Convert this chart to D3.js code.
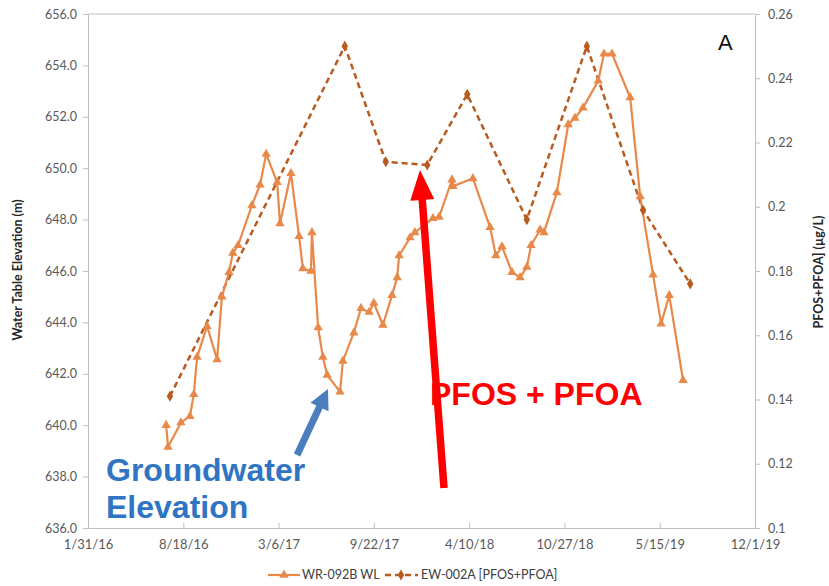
<!DOCTYPE html>
<html><head><meta charset="utf-8">
<script src="https://cdn.jsdelivr.net/npm/d3@7"></script>
<style>body{margin:0;background:#fff}svg{display:block}</style>
</head><body><svg id="c" width="829" height="586"></svg>
<script>
// Groundwater elevation (WR-092B WL)
const gwDates = ["2016-07-13","2016-07-17","2016-08-13","2016-09-01","2016-09-09","2016-09-16","2016-10-07","2016-10-28","2016-11-07","2016-11-22","2016-11-30","2016-12-11","2017-01-09","2017-01-26","2017-02-08","2017-03-03","2017-03-09","2017-04-01","2017-04-18","2017-04-26","2017-05-13","2017-05-15","2017-05-28","2017-06-07","2017-06-16","2017-07-13","2017-07-19","2017-08-11","2017-08-26","2017-09-12","2017-09-22","2017-10-11","2017-10-30","2017-11-10","2017-11-14","2017-12-07","2017-12-17","2018-01-24","2018-02-06","2018-03-05","2018-03-07","2018-04-18","2018-05-24","2018-06-05","2018-06-18","2018-07-09","2018-07-26","2018-08-09","2018-08-18","2018-09-06","2018-09-14","2018-10-11","2018-11-04","2018-11-18","2018-12-05","2019-01-06","2019-01-18","2019-02-04","2019-03-14","2019-04-04","2019-05-01","2019-05-18","2019-06-04","2019-07-03"];
const gwValues = [640.0,639.15,640.1,640.35,641.2,642.65,643.85,642.55,645.0,645.95,646.7,647.0,648.55,649.35,650.55,649.45,647.85,649.8,647.35,646.1,646.0,647.5,643.8,642.65,641.95,641.3,642.5,643.6,644.55,644.4,644.75,643.9,645.05,645.75,646.6,647.3,647.5,648.05,648.1,649.55,649.3,649.6,647.7,646.6,646.95,645.95,645.75,646.15,647.0,647.6,647.5,649.05,651.7,651.95,652.35,653.4,654.45,654.45,652.75,648.9,645.85,643.95,645.05,641.75];
// PFOS+PFOA concentration (EW-002A)
const pfDates = ["2016-07-21","2017-07-23","2017-10-17","2018-01-12","2018-04-06","2018-08-09","2018-12-13","2019-04-10","2019-07-18"];
const pfValues = [0.141,0.250,0.214,0.213,0.235,0.196,0.250,0.199,0.176];
// Axis ticks
const xTickLabels = ["1/31/16","8/18/16","3/6/17","9/22/17","4/10/18","10/27/18","5/15/19","12/1/19"];
const yLeftTicks = [636,638,640,642,644,646,648,650,652,654,656];
const yRightTicks = [0.1,0.12,0.14,0.16,0.18,0.2,0.22,0.24,0.26];
const legendLabels = ["WR-092B WL","EW-002A [PFOS+PFOA]"];

const parse = d3.timeParse("%Y-%m-%d");
const parseTick = d3.timeParse("%m/%d/%y");
const tickDates = xTickLabels.map(parseTick);

const L=88,R=755,T=14,B=528;
const svg=d3.select("#c");
const font="Lato, 'Open Sans', sans-serif";
const x=d3.scaleTime().domain([tickDates[0],tickDates[tickDates.length-1]]).range([L,R]);
const yL=d3.scaleLinear().domain([636,656]).range([B,T]);
const yR=d3.scaleLinear().domain([0.1,0.26]).range([B,T]);
const axisCol="#bfbfbf", txtCol="#595959";
const gwCol="#e8894a", pfCol="#b95a1f";

// top border
svg.append("line").attr("x1",L).attr("x2",R).attr("y1",T).attr("y2",T).attr("stroke",axisCol).attr("stroke-width",1);

const gx=svg.append("g").attr("transform",`translate(0,${B})`)
 .call(d3.axisBottom(x).tickValues(tickDates).tickFormat((d,i)=>xTickLabels[i]).tickSize(-5).tickSizeOuter(0).tickPadding(12));
const gl=svg.append("g").attr("transform",`translate(${L},0)`)
 .call(d3.axisLeft(yL).tickValues(yLeftTicks).tickFormat(d3.format(".1f")).tickSize(5).tickSizeOuter(0).tickPadding(6));
const gr=svg.append("g").attr("transform",`translate(${R},0)`)
 .call(d3.axisRight(yR).tickValues(yRightTicks).tickFormat(d=>String(+d.toFixed(2))).tickSize(5).tickSizeOuter(0).tickPadding(8));
[gx,gl,gr].forEach(g=>{
  g.selectAll("path,line").attr("stroke",axisCol);
  g.selectAll("text").attr("fill",txtCol).style("font-family",font).style("font-size","12.5px");
});
gx.selectAll("text").style("font-size","13px");

// axis titles
svg.append("text").attr("transform","translate(22,270) rotate(-90)").attr("text-anchor","middle")
 .style("font-family",font).style("font-size","12.5px").style("font-weight","bold").attr("fill","#262626")
 .text("Water Table Elevation (m)");
svg.append("text").attr("transform","translate(823,272) rotate(-90)").attr("text-anchor","middle")
 .style("font-family",font).style("font-size","12.5px").style("font-weight","bold").attr("fill","#262626")
 .text("PFOS+PFOA] (µg/L)");

// series
const gwData=gwDates.map((d,i)=>({d:parse(d),v:gwValues[i]}));
const pfData=pfDates.map((d,i)=>({d:parse(d),v:pfValues[i]}));
svg.append("path").datum(pfData).attr("fill","none").attr("stroke",pfCol).attr("stroke-width",2.5)
 .attr("stroke-dasharray","6,4").attr("d",d3.line().x(d=>x(d.d)).y(d=>yR(d.v)));
svg.append("path").datum(gwData).attr("fill","none").attr("stroke",gwCol).attr("stroke-width",2.2)
 .attr("d",d3.line().x(d=>x(d.d)).y(d=>yL(d.v)));
const tri=d3.symbol().type(d3.symbolTriangle).size(38);
const dia=d3.symbol().type(d3.symbolDiamond).size(36);
svg.append("g").selectAll("path").data(gwData).join("path").attr("d",tri)
 .attr("transform",d=>`translate(${x(d.d)},${yL(d.v)})`).attr("fill",gwCol);
svg.append("g").selectAll("path").data(pfData).join("path").attr("d",dia)
 .attr("transform",d=>`translate(${x(d.d)},${yR(d.v)})`).attr("fill",pfCol);

// legend
const lg=svg.append("g");
lg.append("line").attr("x1",268).attr("x2",300).attr("y1",575).attr("y2",575).attr("stroke",gwCol).attr("stroke-width",2.2);
lg.append("path").attr("d",tri).attr("transform","translate(284,575)").attr("fill",gwCol);
lg.append("text").attr("x",302).attr("y",579).text(legendLabels[0]);
lg.append("line").attr("x1",385).attr("x2",418).attr("y1",575).attr("y2",575).attr("stroke",pfCol).attr("stroke-width",2.5).attr("stroke-dasharray","6,4");
lg.append("path").attr("d",dia).attr("transform","translate(401,575)").attr("fill",pfCol);
lg.append("text").attr("x",421).attr("y",579).text(legendLabels[1]);
lg.selectAll("text").attr("fill","#404040").style("font-family",font).style("font-size","12.5px");

// panel label
svg.append("text").attr("x",718).attr("y",50).text("A").style("font-family","Arial, 'Liberation Sans', sans-serif").style("font-size","22px").attr("fill","#111");

// arrows
function arrow(x0,y0,x1,y1,shaft,headW,headL,col){
  const dx=x1-x0,dy=y1-y0,len=Math.hypot(dx,dy),ux=dx/len,uy=dy/len,px=-uy,py=ux;
  const bx=x1-ux*headL,by=y1-uy*headL;
  const pts=[[x0+px*shaft/2,y0+py*shaft/2],[bx+px*shaft/2,by+py*shaft/2],[bx+px*headW/2,by+py*headW/2],[x1,y1],
   [bx-px*headW/2,by-py*headW/2],[bx-px*shaft/2,by-py*shaft/2],[x0-px*shaft/2,y0-py*shaft/2]];
  svg.append("polygon").attr("points",pts.map(p=>p.join(",")).join(" ")).attr("fill",col);
}
arrow(297,455,328,389,7,20,20,"#4a7ebf");
arrow(444,488,420,170,7.5,24,30,"#ff0000");

// annotations
const ann=svg.append("g").style("font-family","Arial, 'Liberation Sans', sans-serif").style("font-weight","bold").style("font-size","32px");
ann.append("text").attr("x",106).attr("y",481).attr("fill","#2f75c4").text("Groundwater");
ann.append("text").attr("x",106).attr("y",518).attr("fill","#2f75c4").text("Elevation");
ann.append("text").attr("x",430).attr("y",405).attr("fill","#ff0000").text("PFOS + PFOA");
</script></body></html>
